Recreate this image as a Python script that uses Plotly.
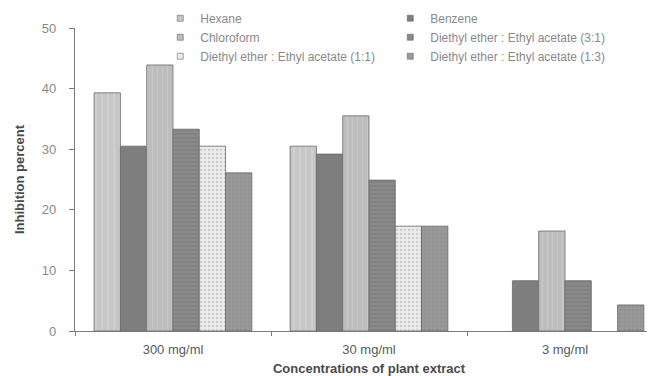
import plotly.graph_objects as go

categories = ["300 mg/ml", "30 mg/ml", "3 mg/ml"]
series_names = [
    "Hexane",
    "Benzene",
    "Chloroform",
    "Diethyl ether : Ethyl acetate (3:1)",
    "Diethyl ether : Ethyl acetate (1:1)",
    "Diethyl ether : Ethyl acetate (1:3)",
]
hexane = [39.3, 30.5, 0]
benzene = [30.5, 29.2, 8.3]
chloroform = [43.9, 35.5, 16.5]
de_ea_3_1 = [33.3, 24.9, 8.3]
de_ea_1_1 = [30.5, 17.3, 0]
de_ea_1_3 = [26.1, 17.3, 4.3]
y_ticks = [0, 10, 20, 30, 40, 50]

values = [hexane, benzene, chloroform, de_ea_3_1, de_ea_1_1, de_ea_1_3]
styles = [
    dict(color="#c6c6c6", shape="|", fg="#d8d8d8", size=6, sol=0.35),
    dict(color="#7e7e7e", shape="", fg="#7e7e7e", size=6, sol=0.3),
    dict(color="#bdbdbd", shape="|", fg="#d2d2d2", size=5, sol=0.3),
    dict(color="#8a8a8a", shape="-", fg="#6e6e6e", size=4, sol=0.3),
    dict(color="#ececec", shape=".", fg="#b0b0b0", size=4, sol=0.3),
    dict(color="#9a9a9a", shape="+", fg="#7c7c7c", size=4, sol=0.2),
]

fig = go.Figure()
for name, vals, st in zip(series_names, values, styles):
    fig.add_trace(go.Bar(
        name=name, x=categories, y=vals, showlegend=False,
        marker=dict(
            color=st["color"],
            line=dict(color="#6a6a6a", width=[0.8 if v > 0 else 0 for v in vals]),
            pattern=dict(shape=st["shape"], fgcolor=st["fg"], bgcolor=st["color"],
                         size=st["size"], solidity=st["sol"]),
        ),
    ))
# legend entries with small square swatches
for name, st in zip(series_names, styles):
    fig.add_trace(go.Scatter(
        name=name, x=[None], y=[None], mode="markers",
        marker=dict(symbol="square", size=6, color=st["color"],
                    line=dict(color="#6a6a6a", width=0.6)),
        showlegend=True, hoverinfo="skip",
    ))

fig.update_layout(
    width=655, height=376,
    margin=dict(l=67, r=0, t=20, b=53, autoexpand=False),
    paper_bgcolor="white", plot_bgcolor="white",
    barmode="group", bargap=0.195, bargroupgap=0,
    font=dict(family="Liberation Sans, Arial, sans-serif", color="#6f6f6f", size=13),
    legend=dict(
        orientation="h", x=0.145, xanchor="left", y=1.08, yanchor="top",
        entrywidth=185, entrywidthmode="pixels", itemwidth=30,
        font=dict(size=12, color="#8a8a8a"),
        bgcolor="rgba(0,0,0,0)",
        traceorder="normal",
    ),
    showlegend=True,
)
fig.update_xaxes(
    showline=True, linecolor="#7a7a7a", linewidth=1.2,
    ticks="outside", tickson="boundaries", ticklen=4, tickcolor="#7a7a7a",
    tickfont=dict(size=13, color="#5a5a5a"), ticklabelstandoff=6,
    title=dict(text="<b>Concentrations of plant extract</b>", font=dict(size=13, color="#4a4a4a"), standoff=8),
    range=[-0.5, 2.5], automargin=False,
)
fig.update_yaxes(
    range=[0, 50], tickvals=y_ticks,
    showline=True, linecolor="#7a7a7a", linewidth=1.2,
    ticks="outside", ticklen=5, tickcolor="#7a7a7a",
    showgrid=False, zeroline=False,
    tickfont=dict(size=13, color="#8a8a8a"), ticklabelstandoff=10,
    title=dict(text="<b>Inhibition percent</b>", font=dict(size=13, color="#4a4a4a"), standoff=14),
    automargin=False,
)

fig.write_html("out.html")
